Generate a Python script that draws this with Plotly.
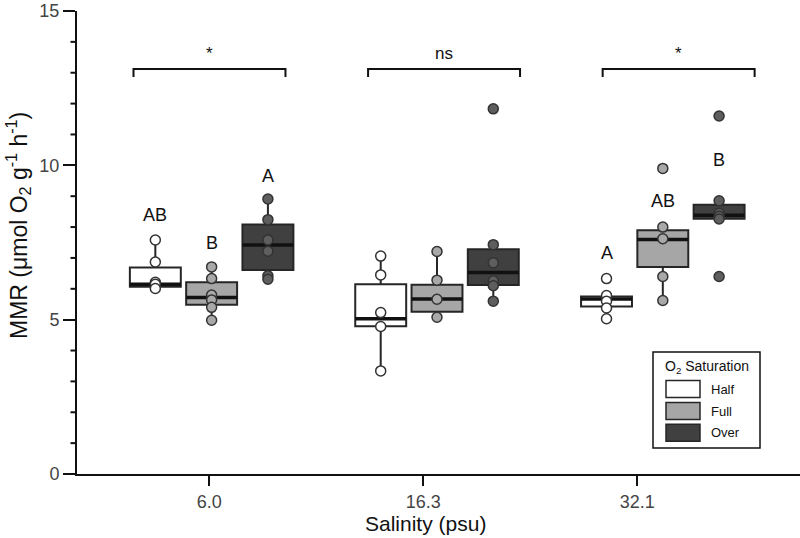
import plotly.graph_objects as go

# ---- data ----
salinity = ["6.0", "16.3", "32.1"]
saturation = ["Half", "Full", "Over"]

# points per (salinity, saturation)
half_pts = [[7.58, 6.87, 6.21, 6.15, 6.01],
            [7.06, 6.45, 5.23, 4.78, 3.34],
            [6.33, 5.78, 5.60, 5.38, 5.03]]
full_pts = [[6.71, 6.33, 5.80, 5.64, 5.40, 4.98],
            [7.21, 6.28, 5.66, 5.08],
            [9.90, 8.00, 7.62, 6.40, 5.62]]
over_pts = [[8.91, 8.24, 7.58, 7.22, 6.42, 6.31],
            [11.83, 7.43, 6.84, 6.26, 6.10, 5.60],
            [11.60, 8.85, 8.45, 8.35, 8.26, 6.40]]

# box statistics (per salinity)
half_q1 = [6.07, 4.79, 5.43]; half_med = [6.15, 5.03, 5.67]; half_q3 = [6.69, 6.15, 5.75]
half_lo = [6.01, 3.34, 5.03]; half_hi = [7.58, 7.06, 5.75]
full_q1 = [5.48, 5.26, 6.71]; full_med = [5.72, 5.67, 7.60]; full_q3 = [6.21, 6.13, 7.90]
full_lo = [4.98, 5.08, 5.62]; full_hi = [6.71, 7.21, 8.00]
over_q1 = [6.61, 6.12, 8.27]; over_med = [7.42, 6.53, 8.38]; over_q3 = [8.08, 7.28, 8.72]
over_lo = [6.31, 5.60, 8.26]; over_hi = [8.91, 7.43, 8.85]

# where each salinity group of boxes sits on the axis (tick units), and bracket centres
group_pos = [0.011, 1.064, 2.119]
bracket_pos = [0.001, 1.097, 2.193]

# letters above boxes: (salinity index, saturation index, text, y)
letters_txt = ["AB", "B", "A", "A", "AB", "B"]
letters_sal = [0, 0, 0, 2, 2, 2]
letters_sat = [0, 1, 2, 0, 1, 2]
letters_y = [8.40, 7.49, 9.67, 7.17, 8.86, 10.16]

sig_txt = ["*", "ns", "*"]

Y_MAX = 15
y_major = [0, 5, 10, 15]
y_minor = [v for v in range(16) if v % 5]

# ---- styling ----
fills = {"Half": "#ffffff", "Full": "#a6a6a6", "Over": "#404040"}
ptfills = {"Half": "#ffffff", "Full": "#a8a8a8", "Over": "#5e5e5e"}
offsets = {"Half": -0.263, "Full": 0.0, "Over": 0.263}
BW = 0.238
edge = "#262626"

series = {
    "Half": (half_pts, half_q1, half_med, half_q3, half_lo, half_hi),
    "Full": (full_pts, full_q1, full_med, full_q3, full_lo, full_hi),
    "Over": (over_pts, over_q1, over_med, over_q3, over_lo, over_hi),
}

fig = go.Figure()

for name in saturation:
    pts, q1, med, q3, lo, hi = series[name]
    xs = [g + offsets[name] for g in group_pos]
    fig.add_trace(go.Box(x=xs, q1=q1, median=med, q3=q3, lowerfence=lo, upperfence=hi,
                         width=BW, fillcolor=fills[name], line=dict(color=edge, width=2),
                         whiskerwidth=0, boxpoints=False, showlegend=False, hoverinfo="skip"))
    # thick median line
    fig.add_trace(go.Box(x=xs, q1=med, median=med, q3=med, lowerfence=med, upperfence=med,
                         width=BW, fillcolor="rgba(0,0,0,0)", line=dict(color="#111111", width=3.5),
                         whiskerwidth=0, boxpoints=False, showlegend=False, hoverinfo="skip"))

for name in saturation:
    pts = series[name][0]
    px_, py_ = [], []
    for g, arr in zip(group_pos, pts):
        px_ += [g + offsets[name]] * len(arr)
        py_ += arr
    fig.add_trace(go.Scatter(x=px_, y=py_, mode="markers", showlegend=False,
                             marker=dict(size=10, color=ptfills[name],
                                         line=dict(color="#333333", width=1.5))))

# letters
for t, si, ti, yv in zip(letters_txt, letters_sal, letters_sat, letters_y):
    fig.add_annotation(x=group_pos[si] + offsets[saturation[ti]], y=yv, text=t, showarrow=False,
                       font=dict(size=18, color="#111111"), xanchor="center", yanchor="middle")

# significance brackets
BH = 0.355
y_top, y_bot = 13.12, 12.86
for c, t in zip(bracket_pos, sig_txt):
    fig.add_shape(type="path", xref="x", yref="y",
                  path=f"M {c-BH},{y_bot} L {c-BH},{y_top} L {c+BH},{y_top} L {c+BH},{y_bot}",
                  line=dict(color="#111111", width=2))
    fig.add_annotation(x=c, y=y_top, text=t, showarrow=False, yanchor="bottom", yshift=4,
                       font=dict(size=17, color="#111111"))

# pixel helper -> paper
L, R, T, B = 77, 800, 11, 474
def xp(p): return (p - L) / (R - L)
def yp(p): return (B - p) / (B - T)

# minor y ticks (paper refs so they are not clipped to the plot area)
for v in y_minor:
    fig.add_shape(type="line", xref="paper", yref="paper", x0=xp(70.5), x1=xp(77),
                  y0=v / Y_MAX, y1=v / Y_MAX, line=dict(color="#111111", width=2))

# manual legend
fig.add_shape(type="rect", xref="paper", yref="paper", x0=xp(653), x1=xp(760), y0=yp(448), y1=yp(352),
              line=dict(color="#111111", width=1.5), fillcolor="white")
fig.add_annotation(xref="paper", yref="paper", x=xp(706.5), y=yp(367), text="O<sub>2</sub> Saturation",
                   showarrow=False, font=dict(size=14, color="#111111"), xanchor="center", yanchor="middle")
for name, cy in zip(saturation, [389, 411, 432.7]):
    fig.add_shape(type="rect", xref="paper", yref="paper", x0=xp(666), x1=xp(700),
                  y0=yp(cy + 8.5), y1=yp(cy - 8.5), fillcolor=fills[name],
                  line=dict(color="#262626", width=1.5))
    fig.add_annotation(xref="paper", yref="paper", x=xp(709), y=yp(cy), text=name, showarrow=False,
                       font=dict(size=13, color="#111111"), xanchor="left", yanchor="middle")

# axis titles as annotations (positioned like the reference)
fig.add_annotation(xref="paper", yref="paper", x=xp(18), y=yp(226), textangle=-90,
                   text="MMR (μmol O<sub>2</sub> g<sup>-1</sup> h<sup>-1</sup>)", showarrow=False,
                   font=dict(size=23, color="#111111"), xanchor="center", yanchor="middle")
fig.add_annotation(xref="paper", yref="paper", x=xp(425), y=yp(523), text="Salinity (psu)",
                   showarrow=False, font=dict(size=21, color="#111111"),
                   xanchor="center", yanchor="middle")

fig.update_layout(
    width=800, height=538, margin=dict(l=L, r=800 - R, t=T, b=538 - B),
    paper_bgcolor="white", plot_bgcolor="white",
    font=dict(family="Liberation Sans, Arial, sans-serif", color="#222222"),
    boxmode="overlay",
)
fig.update_xaxes(range=[-0.618, 2.760], tickmode="array", tickvals=[0, 1, 2], ticktext=salinity,
                 ticks="outside", ticklen=10, tickwidth=2, tickcolor="#111111",
                 showline=True, linecolor="#111111", linewidth=2, showgrid=False, zeroline=False,
                 tickfont=dict(size=18, color="#444444"), ticklabeloverflow="allow",
                 automargin=False)
fig.update_yaxes(range=[0, Y_MAX], tickmode="array", tickvals=y_major,
                 ticktext=[str(v) for v in y_major], ticks="outside", ticklen=12,
                 tickwidth=2, tickcolor="#111111", showline=True, linecolor="#111111", linewidth=2,
                 showgrid=False, zeroline=False, tickfont=dict(size=18, color="#444444"),
                 ticklabeloverflow="allow", automargin=False)

fig.write_html("out.html")
